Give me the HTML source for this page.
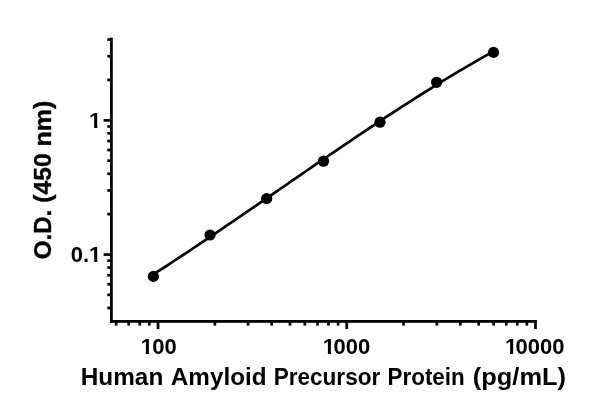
<!DOCTYPE html>
<html><head><meta charset="utf-8"><title>Standard curve</title>
<style>
html,body{margin:0;padding:0;background:#fff;}
svg{display:block;}
text{font-family:"Liberation Sans",sans-serif;font-weight:bold;fill:#000;}
</style></head>
<body>
<svg width="600" height="409" viewBox="0 0 600 409">
<rect width="600" height="409" fill="#fff"/>
<g fill="#000">
<rect x="110.0" y="37.6" width="2.8" height="285.2"/>
<rect x="110.0" y="320.0" width="426.8" height="2.8"/>
<rect x="114.8" y="320.0" width="2.7" height="5.6"/>
<rect x="127.4" y="320.0" width="2.7" height="5.6"/>
<rect x="138.4" y="320.0" width="2.7" height="5.6"/>
<rect x="148.0" y="320.0" width="2.7" height="5.6"/>
<rect x="156.7" y="320.0" width="2.7" height="9.1"/>
<rect x="213.5" y="320.0" width="2.7" height="5.6"/>
<rect x="246.7" y="320.0" width="2.7" height="5.6"/>
<rect x="270.3" y="320.0" width="2.7" height="5.6"/>
<rect x="288.6" y="320.0" width="2.7" height="5.6"/>
<rect x="303.5" y="320.0" width="2.7" height="5.6"/>
<rect x="316.2" y="320.0" width="2.7" height="5.6"/>
<rect x="327.1" y="320.0" width="2.7" height="5.6"/>
<rect x="336.8" y="320.0" width="2.7" height="5.6"/>
<rect x="345.4" y="320.0" width="2.7" height="9.1"/>
<rect x="402.2" y="320.0" width="2.7" height="5.6"/>
<rect x="435.5" y="320.0" width="2.7" height="5.6"/>
<rect x="459.0" y="320.0" width="2.7" height="5.6"/>
<rect x="477.3" y="320.0" width="2.7" height="5.6"/>
<rect x="492.3" y="320.0" width="2.7" height="5.6"/>
<rect x="504.9" y="320.0" width="2.7" height="5.6"/>
<rect x="515.9" y="320.0" width="2.7" height="5.6"/>
<rect x="525.5" y="320.0" width="2.7" height="5.6"/>
<rect x="534.1" y="320.0" width="2.7" height="9.1"/>
<rect x="107.3" y="306.6" width="3.7" height="2.7"/>
<rect x="107.3" y="293.5" width="3.7" height="2.7"/>
<rect x="107.3" y="282.9" width="3.7" height="2.7"/>
<rect x="107.3" y="273.9" width="3.7" height="2.7"/>
<rect x="107.3" y="266.2" width="3.7" height="2.7"/>
<rect x="107.3" y="259.3" width="3.7" height="2.7"/>
<rect x="103.6" y="253.2" width="7.4" height="2.7"/>
<rect x="107.3" y="212.8" width="3.7" height="2.7"/>
<rect x="107.3" y="189.1" width="3.7" height="2.7"/>
<rect x="107.3" y="172.4" width="3.7" height="2.7"/>
<rect x="107.3" y="159.3" width="3.7" height="2.7"/>
<rect x="107.3" y="148.7" width="3.7" height="2.7"/>
<rect x="107.3" y="139.7" width="3.7" height="2.7"/>
<rect x="107.3" y="132.0" width="3.7" height="2.7"/>
<rect x="107.3" y="125.1" width="3.7" height="2.7"/>
<rect x="103.6" y="119.0" width="7.4" height="2.7"/>
<rect x="107.3" y="78.6" width="3.7" height="2.7"/>
<rect x="107.3" y="54.9" width="3.7" height="2.7"/>
<rect x="107.3" y="38.2" width="3.7" height="2.7"/>
</g>
<polyline points="153.4,274.3 158.3,271.1 163.3,268.0 168.2,264.8 173.1,261.5 178.0,258.3 183.0,255.0 187.9,251.8 192.8,248.5 197.8,245.2 202.7,241.9 207.6,238.6 212.5,235.3 217.5,231.9 222.4,228.6 227.3,225.2 232.3,221.9 237.2,218.5 242.1,215.1 247.1,211.7 252.0,208.4 256.9,205.0 261.8,201.6 266.8,198.2 271.7,194.8 276.6,191.4 281.6,188.0 286.5,184.6 291.4,181.2 296.3,177.8 301.3,174.4 306.2,171.0 311.1,167.6 316.1,164.2 321.0,160.9 325.9,157.5 330.8,154.1 335.8,150.8 340.7,147.4 345.6,144.1 350.6,140.8 355.5,137.4 360.4,134.1 365.3,130.8 370.3,127.5 375.2,124.3 380.1,121.0 385.1,117.7 390.0,114.5 394.9,111.3 399.8,108.1 404.8,104.9 409.7,101.8 414.6,98.6 419.6,95.5 424.5,92.4 429.4,89.3 434.4,86.2 439.3,83.2 444.2,80.2 449.1,77.2 454.1,74.2 459.0,71.2 463.9,68.3 468.9,65.4 473.8,62.6 478.7,59.7 483.6,56.9 488.6,54.1 493.5,51.4" fill="none" stroke="#000" stroke-width="2.7" stroke-linejoin="round"/>
<g fill="#000"><circle cx="153.4" cy="276.4" r="5.6"/><circle cx="210.05" cy="235.0" r="5.6"/><circle cx="266.7" cy="198.5" r="5.6"/><circle cx="323.5" cy="161.2" r="5.6"/><circle cx="380.0" cy="122.2" r="5.6"/><circle cx="436.6" cy="82.3" r="5.6"/><circle cx="493.5" cy="52.4" r="5.6"/></g>
<g font-size="22.0">
<text x="140.70 152.30" y="354.3">100</text>
<text x="322.85 333.60" y="354.3">1000</text>
<text x="504.90 515.60" y="354.3">10000</text>
<text x="70.70 82.94 89.10" y="262.0">0.1</text>
<text x="89.10" y="128.0">1</text>
</g>
<g fill="#fff"><rect x="141.20" y="351.00" width="4.55" height="4"/><rect x="148.95" y="351.00" width="4.30" height="4"/><rect x="323.35" y="351.00" width="4.55" height="4"/><rect x="331.10" y="351.00" width="4.30" height="4"/><rect x="505.40" y="351.00" width="4.55" height="4"/><rect x="513.15" y="351.00" width="4.30" height="4"/><rect x="89.60" y="258.70" width="4.55" height="4"/><rect x="97.35" y="258.70" width="4.30" height="4"/><rect x="89.60" y="124.70" width="4.55" height="4"/><rect x="97.35" y="124.70" width="4.30" height="4"/></g>
<text y="384.6" font-size="23.0"><tspan x="80.78" textLength="82.50" lengthAdjust="spacingAndGlyphs">Human</tspan> <tspan x="170.82" textLength="95.73" lengthAdjust="spacingAndGlyphs">Amyloid</tspan> <tspan x="273.69" textLength="106.53" lengthAdjust="spacingAndGlyphs">Precursor</tspan> <tspan x="387.60" textLength="77.08" lengthAdjust="spacingAndGlyphs">Protein</tspan> <tspan x="472.81" textLength="93.31" lengthAdjust="spacingAndGlyphs">(pg/mL)</tspan></text>
<text transform="translate(51.4,258.5) rotate(-90)" y="0" font-size="23.0" stroke="#000" stroke-width="0.35"><tspan x="-0.75" textLength="49.47" lengthAdjust="spacingAndGlyphs">O.D.</tspan> <tspan x="55.84" textLength="49.56" lengthAdjust="spacingAndGlyphs">(450</tspan> <tspan x="112.04" textLength="45.76" lengthAdjust="spacingAndGlyphs">nm)</tspan></text>
</svg>
</body></html>
